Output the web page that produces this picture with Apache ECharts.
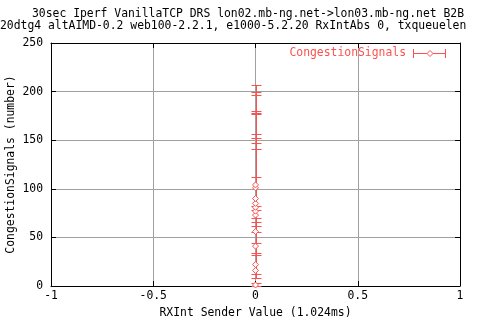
<!DOCTYPE html>
<html><head><meta charset="utf-8">
<script src="https://cdn.jsdelivr.net/npm/echarts@6/dist/echarts.min.js"></script>
<style>html,body{margin:0;padding:0;background:#fff}#c{width:480px;height:320px}</style>
</head><body><div id="c"></div>
<script>
var xValues = [0, 0, 0, 0, 0, 0, 0, 0, 0, 0, 0, 0];
var yValues = [1, 16, 22, 41, 56, 73, 77, 81, 85, 90, 101, 104];
var yLow    = [0, 8, 12, 32, 34, 44, 56, 62, 66, 70, 78, 82];
var yHigh   = [3, 112, 141, 147, 152, 156, 177, 178, 180, 197, 207, 200];
var xTicks = [-1, -0.5, 0, 0.5, 1];
var yTicks = [0, 50, 100, 150, 200, 250];
var titleLines = ['30sec Iperf VanillaTCP DRS lon02.mb-ng.net->lon03.mb-ng.net B2B',
                  '20dtg4 altAIMD-0.2 web100-2.2.1, e1000-5.2.20 RxIntAbs 0, txqueuelen'];
var seriesName = 'CongestionSignals';
var RED = '#ff5050';
var FONT = 'DejaVu Sans Mono';
var FS = 11.4;

var chart = echarts.init(document.getElementById('c'), null, {renderer: 'canvas'});
var errData = xValues.map(function (x, i) { return [x, yLow[i], yHigh[i]]; });
var ptData = xValues.map(function (x, i) { return [x, yValues[i]]; });

function axisCommon() {
  return {
    axisLine: {show: true, onZero: false, lineStyle: {color: '#000', width: 1}},
    axisTick: {show: true, inside: true, length: 5, lineStyle: {color: '#000'}},
    axisLabel: {color: '#000', fontFamily: FONT, fontSize: FS},
    splitLine: {show: false}
  };
}
var xa = Object.assign(axisCommon(), {type: 'value', min: xTicks[0], max: xTicks[xTicks.length-1], interval: 0.5,
  name: 'RXInt Sender Value (1.024ms)', nameLocation: 'middle', nameGap: 22, nameMoveOverlap: false,
  nameTextStyle: {color: '#000', fontFamily: FONT, fontSize: FS},
  splitLine: {show: true, lineStyle: {color: '#a0a0a0', width: 1}},
  axisLabel: {color: '#000', fontFamily: FONT, fontSize: FS, margin: 5}});
var xa2 = Object.assign(axisCommon(), {type: 'value', position: 'top', min: -1, max: 1, interval: 0.5,
  axisLabel: {show: false}});
var ya = Object.assign(axisCommon(), {type: 'value', min: yTicks[0], max: yTicks[yTicks.length-1], interval: 50,
  name: 'CongestionSignals (number)', nameLocation: 'middle', nameGap: 34, nameRotate: 90, nameMoveOverlap: false,
  nameTextStyle: {color: '#000', fontFamily: FONT, fontSize: FS},
  splitLine: {show: true, lineStyle: {color: '#a0a0a0', width: 1}},
  axisLabel: {color: '#000', fontFamily: FONT, fontSize: FS, margin: 8}});
var ya2 = Object.assign(axisCommon(), {type: 'value', position: 'right', min: 0, max: 250, interval: 50,
  axisLabel: {show: false}});

chart.setOption({
  animation: false,
  backgroundColor: '#fff',
  textStyle: {fontFamily: FONT},
  grid: {left: 51, right: 20, top: 43, bottom: 34, containLabel: false, outerBoundsMode: 'none'},
  xAxis: [xa, xa2],
  yAxis: [ya, ya2],
  title: [
    {text: titleLines[0], left: 32, top: 9, textStyle: {fontFamily: FONT, fontSize: FS, fontWeight: 'normal', color: '#000'}, padding: 0},
    {text: titleLines[1], left: 0, top: 21, textStyle: {fontFamily: FONT, fontSize: FS, fontWeight: 'normal', color: '#000'}, padding: 0}
  ],
  series: [
    {
      type: 'custom', name: seriesName, data: errData, xAxisIndex: 0, yAxisIndex: 0,
      renderItem: function (params, api) {
        var lo = api.coord([api.value(0), api.value(1)]);
        var hi = api.coord([api.value(0), api.value(2)]);
        var w = 5;
        var x = Math.round(lo[0]) + 0.5;
        var yl = Math.round(lo[1]) + 0.5, yh = Math.round(hi[1]) + 0.5;
        var st = {stroke: RED, lineWidth: 1};
        return {type: 'group', children: [
          {type: 'line', shape: {x1: x, y1: yl, x2: x, y2: yh}, style: st},
          {type: 'line', shape: {x1: x-w, y1: yl, x2: x+w, y2: yl}, style: st},
          {type: 'line', shape: {x1: x-w, y1: yh, x2: x+w, y2: yh}, style: st}
        ]};
      },
      z: 3
    },
    {
      type: 'scatter', name: seriesName, data: ptData, symbol: 'diamond', symbolSize: [6, 6],
      itemStyle: {color: '#fff', borderColor: RED, borderWidth: 1, opacity: 1}, z: 4
    }
  ],
  graphic: [
    {type: 'text', right: 74, top: 48, style: {text: seriesName, fill: RED, font: FS + 'px "' + FONT + '"', textAlign: 'right'}},
    {type: 'line', shape: {x1: 413, y1: 53.5, x2: 446, y2: 53.5}, style: {stroke: RED, lineWidth: 1}},
    {type: 'line', shape: {x1: 413.5, y1: 49, x2: 413.5, y2: 58}, style: {stroke: RED, lineWidth: 1}},
    {type: 'line', shape: {x1: 445.5, y1: 49, x2: 445.5, y2: 58}, style: {stroke: RED, lineWidth: 1}},
    {type: 'polygon', shape: {points: [[430, 50.5], [433, 53.5], [430, 56.5], [427, 53.5]]}, style: {fill: '#fff', stroke: RED, lineWidth: 1}}
  ]
});
</script></body></html>
